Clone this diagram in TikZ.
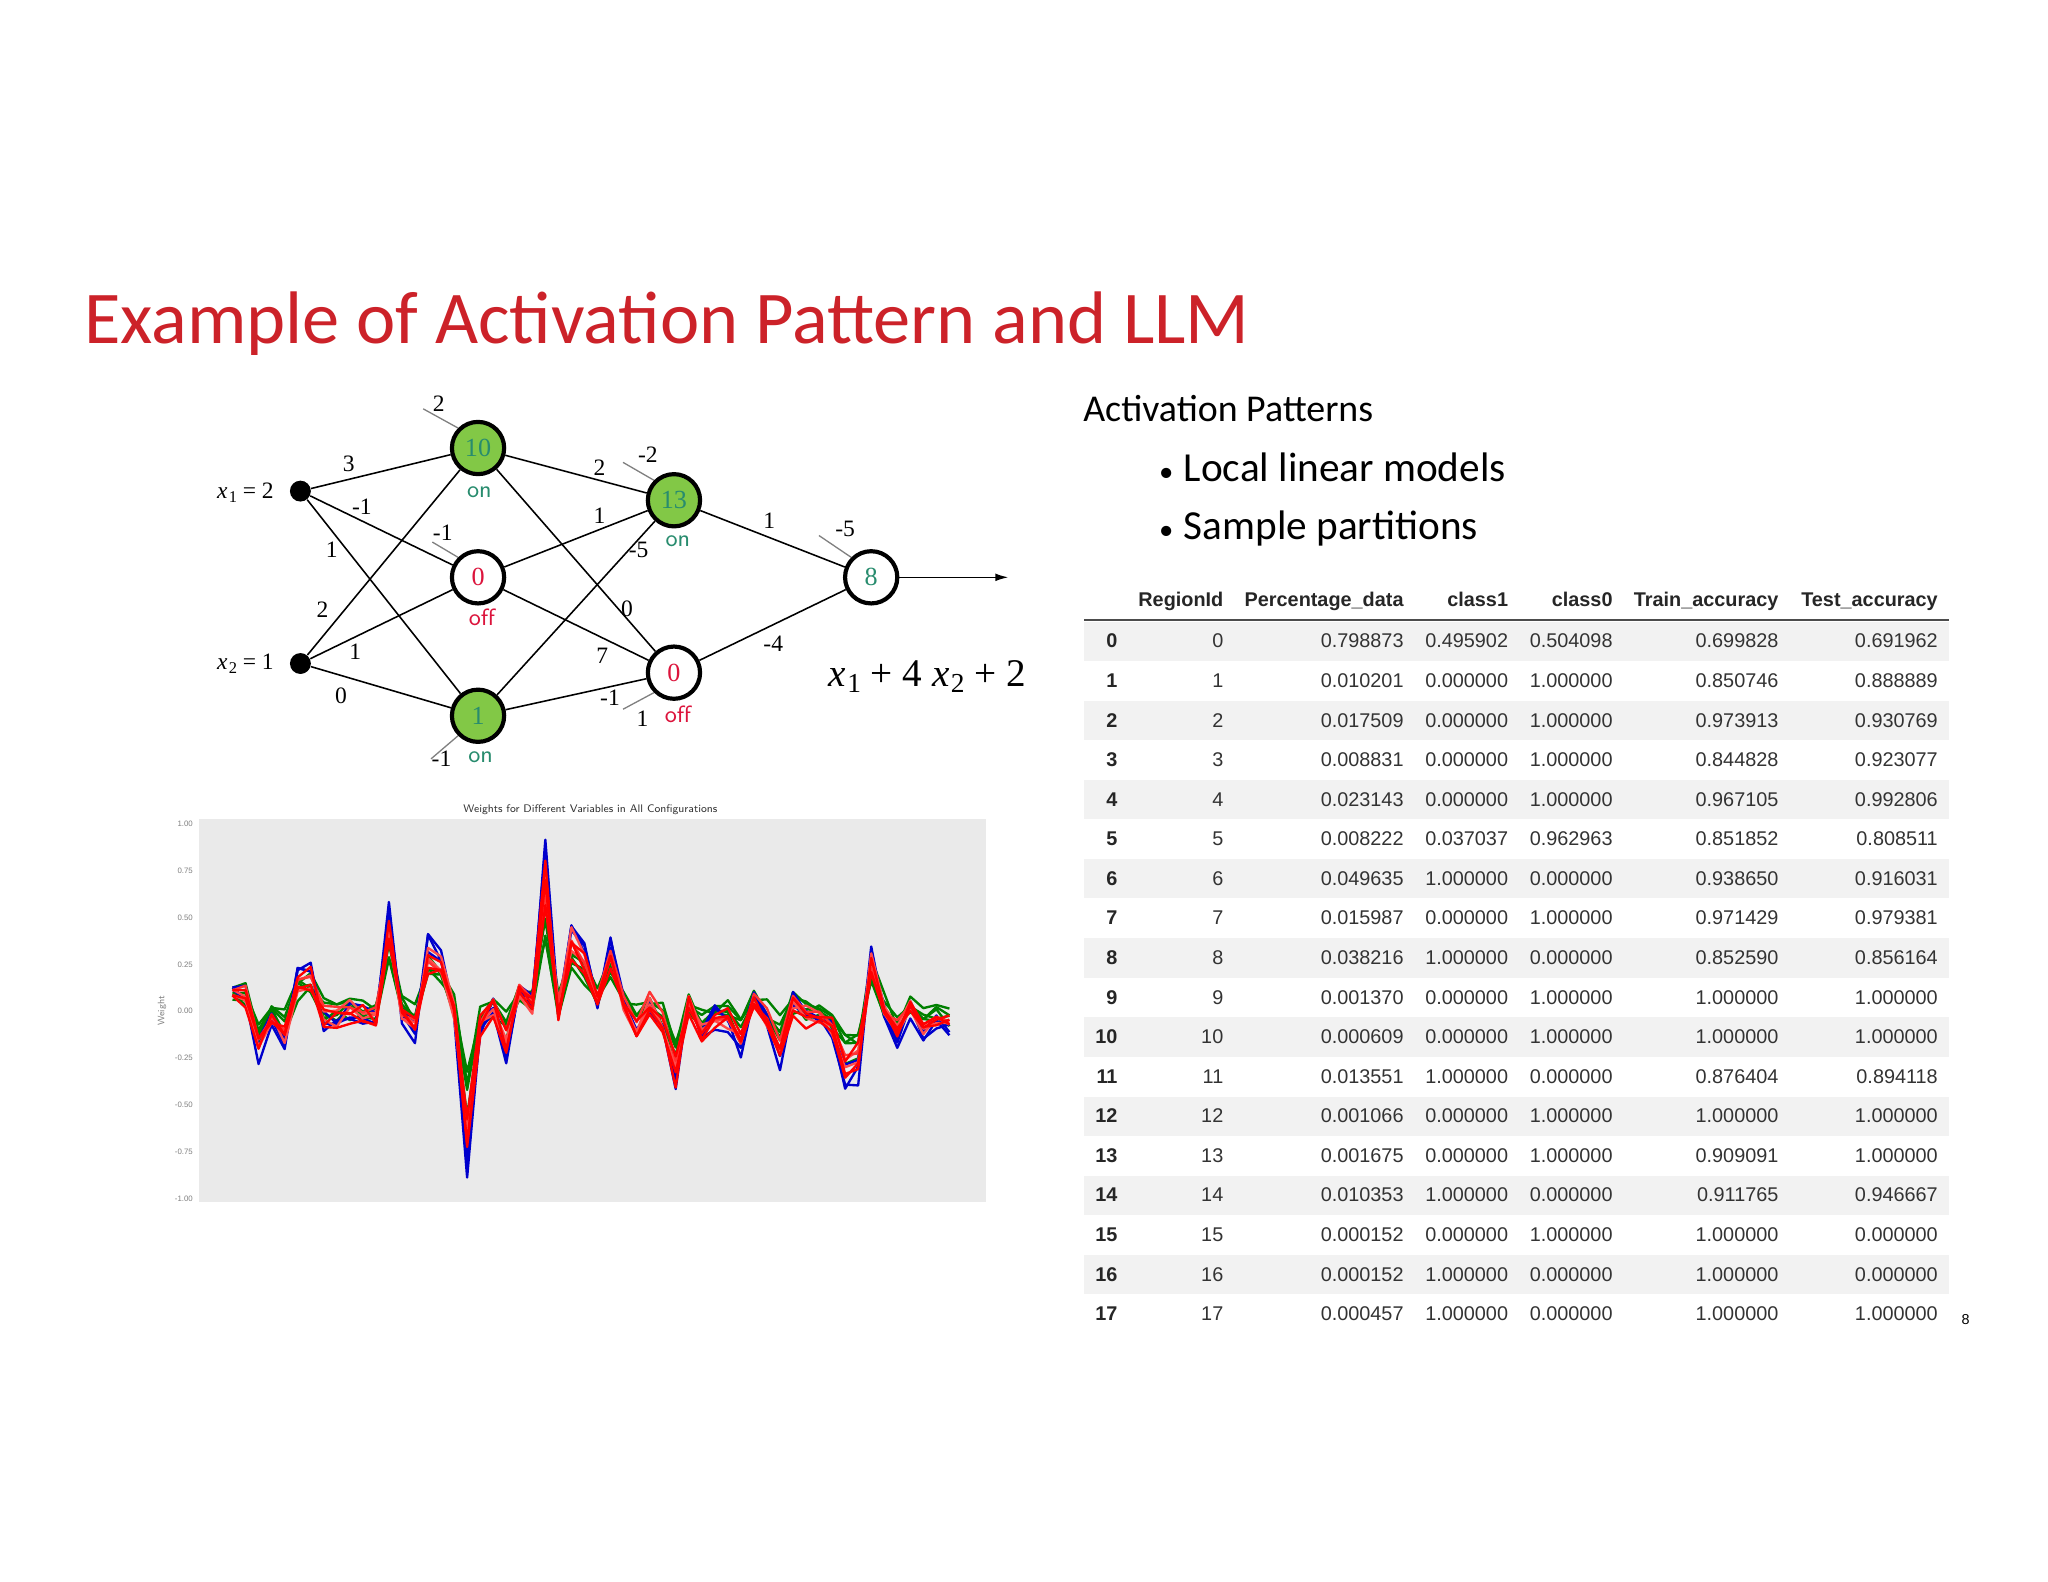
\documentclass[tikz,border=0pt]{standalone}
\usepackage{fontspec}
\setmainfont{Carlito}
\newfontfamily\tabf{Liberation Sans}
\newfontfamily\netf{Liberation Serif}
\usetikzlibrary{arrows.meta}
\definecolor{titred}{RGB}{204,34,41}
\definecolor{ngreen}{RGB}{130,200,70}
\definecolor{ontxt}{RGB}{40,140,110}
\definecolor{offtxt}{RGB}{220,20,60}
\definecolor{plotbg}{RGB}{234,234,234}
\newcommand{\xvar}[1]{{\itshape x}\kern0.5pt\raisebox{-0.35ex}{\fontsize{0.7em}{1em}\selectfont #1}}
\tikzset{
  neuron/.style={circle,draw=black,line width=1.6pt,minimum size=20pt,inner sep=0pt,font=\netf\fontsize{10}{10}\selectfont},
  onn/.style={neuron,fill=ngreen,text=ontxt},
  offn/.style={neuron,fill=white,text=offtxt},
  inp/.style={circle,fill=black,minimum size=8pt,inner sep=0pt},
  wl/.style={font=\netf\fontsize{9}{9}\selectfont,inner sep=1pt},
  ontag/.style={font=\sffamily\fontsize{9}{9}\selectfont,text=ontxt,inner sep=1pt},
  offtag/.style={font=\sffamily\fontsize{9}{9}\selectfont,text=offtxt,inner sep=1pt},
  biasl/.style={draw=gray,line width=0.5pt},
  edge/.style={draw=black,line width=0.6pt},
  th/.style={font=\tabf\bfseries\fontsize{7.6}{8}\selectfont,text=black!85,anchor=base east,inner sep=0pt},
  td/.style={font=\tabf\fontsize{7.6}{8}\selectfont,text=black!80,anchor=base east,inner sep=0pt},
  ytk/.style={font=\tabf\fontsize{3}{3}\selectfont,text=gray,anchor=east,inner sep=1pt},
  bul/.style={anchor=base west,inner sep=0pt,font=\fontsize{15.8}{16}\selectfont},
}
\begin{document}
\begin{tikzpicture}[x=0.5pt,y=-0.5pt]
\useasboundingbox (0,0) rectangle (1568,1211);
\fill[white] (0,0) rectangle (1568,1211);
% title
\node[anchor=base west,inner sep=0pt,text=titred,font=\fontsize{28.5}{30}\selectfont] (title) at (64,263) {Example of Activation Pattern and LLM};
% bullets
\node[anchor=base west,inner sep=0pt,font=\fontsize{14.5}{15}\selectfont] (ap) at (829,323) {Activation Patterns};
\node[bul] (b1) at (887,369) {{\fontsize{11}{11}\selectfont\textbullet}\hspace{4pt}Local linear models};
\node[bul] (b2) at (887,413) {{\fontsize{11}{11}\selectfont\textbullet}\hspace{4pt}Sample partitions};
% network
\node[inp] (x1) at (230,376) {};
\node[inp] (x2) at (230,508) {};
\node[wl,anchor=east] (x1l) at (212,377) {\xvar{1} = 2};
\node[wl,anchor=east] (x2l) at (212,508) {\xvar{2} = 1};
\node[onn] (a) at (366,343) {10};
\node[offn] (b) at (366,442) {0};
\node[onn] (c) at (366,548) {1};
\node[onn] (d) at (516,383) {13};
\node[offn] (e) at (516,515) {0};
\node[offn,text=ontxt] (o) at (667,442) {8};
\coordinate (oend) at (772,442);
\foreach \s in {x1,x2}{\foreach \t in {a,b,c}{\draw[edge] (\s) -- (\t);}}
\foreach \s in {a,b,c}{\foreach \t in {d,e}{\draw[edge] (\s) -- (\t);}}
\draw[edge] (d) -- (o); \draw[edge] (e) -- (o);
\draw[edge,-{Latex[length=5pt,width=3pt]}] (o) -- (oend);
% biases
\draw[biasl] (324,313) -- (a.north west);
\draw[biasl] (331,415) -- (b.north west);
\draw[biasl] (330,581) -- (c.south west);
\draw[biasl] (477,354) -- (d.north west);
\draw[biasl] (477,543) -- (e.south west);
\draw[biasl] (627,410) -- (o.north west);
\node[wl] (ba) at (336,309) {2};
\node[wl] (bb) at (339,408) {-1};
\node[wl] (bc) at (338,581) {-1};
\node[wl] (bd) at (496,348) {-2};
\node[wl] (be) at (492,550) {1};
\node[wl] (bo) at (647,405) {-5};
\node[ontag] (ta) at (367,377) {on};
\node[offtag] (tb) at (369,473) {off};
\node[ontag] (tc) at (368,580) {on};
\node[ontag] (td) at (519,414) {on};
\node[offtag] (te) at (519,547) {off};
% weights
\node[wl] at (267,355) {3};
\node[wl] at (277,388) {-1};
\node[wl] at (254,421) {1};
\node[wl] at (247,467) {2};
\node[wl] at (272,499) {1};
\node[wl] at (261,533) {0};
\node[wl] at (459,358) {2};
\node[wl] at (459,395) {1};
\node[wl] at (489,421) {-5};
\node[wl] at (480,466) {0};
\node[wl] at (461,502) {7};
\node[wl] at (467,534) {-1};
\node[wl] at (589,399) {1};
\node[wl] at (592,493) {-4};
\node[font=\netf\fontsize{15}{15}\selectfont,inner sep=0pt] (formula) at (710,518) {\xvar{1} + 4 \xvar{2} + 2};
% chart
\fill[plotbg] (152,627) rectangle (755,920);
\node[font=\sffamily\fontsize{4.2}{5}\selectfont,text=black!80] (ct) at (452,620) {Weights for Different Variables in All Configurations};
\foreach \v/\yy in {1.00/631,0.75/667,0.50/703,0.25/739,0.00/774,-0.25/810,-0.50/846,-0.75/882,-1.00/918}{\node[ytk] at (150,\yy) {\v};}
\node[rotate=90,font=\sffamily\fontsize{3.6}{4}\selectfont,text=gray] (wt) at (124,774) {Weight};
\pgfmathsetseed{7}
\foreach \col/\f/\o in {green!50!black/0.45/0.04,green!50!black/0.55/0.02,green!50!black/0.62/0.05,green!50!black/0.7/0.0,green!50!black/0.5/0.0,
  blue!80!black/1.05/0.0,blue!80!black/1.12/-0.02,blue!80!black/0.95/0.01,
  red!70/0.8/-0.01,red!70/0.88/0.01,red!80/0.75/0.02,red/0.92/0.0,red/0.85/-0.02,red/0.7/0.0}{
\draw[\col,line width=0.9pt,line join=round] (178,{774-143*(\f*0.12+\o)})
 \foreach \v [count=\i] in {0.1,-0.2,-0.05,-0.18,0.2,0.22,-0.05,-0.03,0.0,-0.02,-0.05,0.5,0.0,-0.1,0.35,0.3,0.0,-0.8,-0.1,0.02,-0.2,0.13,0.05,0.85,0.0,0.45,0.3,0.05,0.35,0.05,-0.1,0.05,-0.1,-0.4,0.05,-0.15,-0.03,-0.05,-0.2,0.08,-0.05,-0.25,0.05,-0.03,-0.05,-0.1,-0.35,-0.3,0.3,0.0,-0.15,0.0,-0.12,-0.05,-0.08}
 { -- ({178+\i*9.98},{774-143*(\f*\v+\o+0.05*rand)}) };
}
% table
\foreach \r in {0,2,...,16}{\fill[black!5] (830,{491+30.3*\r-15}) rectangle (1492,{491+30.3*\r+15});}
\draw[black!70,line width=0.8pt] (830,475) -- (1492,475);
\node[th] (h1) at (937,464) {RegionId};
\node[th] (h2) at (1075,464) {Percentage\_data};
\node[th] (h3) at (1155,464) {class1};
\node[th] (h4) at (1235,464) {class0};
\node[th] (h5) at (1362,464) {Train\_accuracy};
\node[th] (h6) at (1484,464) {Test\_accuracy};
\foreach \i/\a/\b/\c/\d/\e [count=\k from 0] in {
0/0.798873/0.495902/0.504098/0.699828/0.691962,
1/0.010201/0.000000/1.000000/0.850746/0.888889,
2/0.017509/0.000000/1.000000/0.973913/0.930769,
3/0.008831/0.000000/1.000000/0.844828/0.923077,
4/0.023143/0.000000/1.000000/0.967105/0.992806,
5/0.008222/0.037037/0.962963/0.851852/0.808511,
6/0.049635/1.000000/0.000000/0.938650/0.916031,
7/0.015987/0.000000/1.000000/0.971429/0.979381,
8/0.038216/1.000000/0.000000/0.852590/0.856164,
9/0.001370/0.000000/1.000000/1.000000/1.000000,
10/0.000609/0.000000/1.000000/1.000000/1.000000,
11/0.013551/1.000000/0.000000/0.876404/0.894118,
12/0.001066/0.000000/1.000000/1.000000/1.000000,
13/0.001675/0.000000/1.000000/0.909091/1.000000,
14/0.010353/1.000000/0.000000/0.911765/0.946667,
15/0.000152/0.000000/1.000000/1.000000/0.000000,
16/0.000152/1.000000/0.000000/1.000000/0.000000,
17/0.000457/1.000000/0.000000/1.000000/1.000000}{
\pgfmathsetmacro\yy{491+30.3*\k+5}
\node[th] at (856,\yy) {\i};
\node[td] at (937,\yy) {\i};
\node[td] at (1075,\yy) {\a};
\node[td] at (1155,\yy) {\b};
\node[td] at (1235,\yy) {\c};
\node[td] at (1362,\yy) {\d};
\node[td] at (1484,\yy) {\e};
}
\node[font=\tabf\fontsize{5.5}{6}\selectfont] (pg) at (1505,1010) {8};
\end{tikzpicture}
\end{document}
